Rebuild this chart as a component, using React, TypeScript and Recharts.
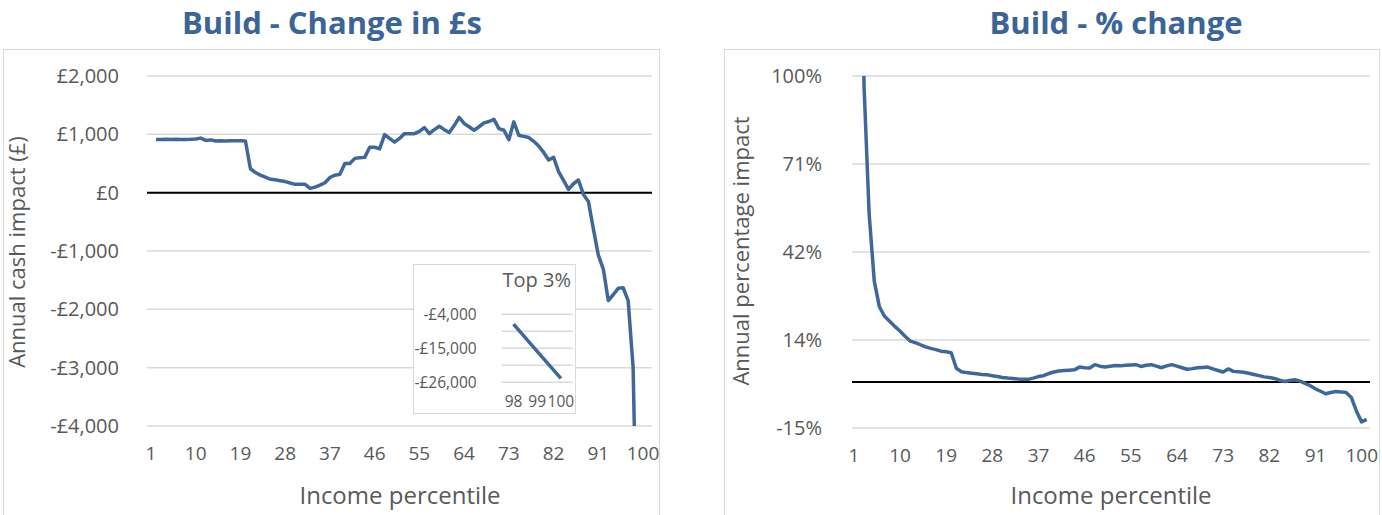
import React from 'react';
import { LineChart, Line, XAxis, YAxis, CartesianGrid, ReferenceLine } from 'recharts';

// Income percentiles 1..100 (category positions on the x axis)
const percentiles = Array.from({ length: 100 }, (_, i) => i + 1);

// Annual cash impact (£) by income percentile
const cashChange = [
  910, 912, 915, 912, 915, 910, 912, 915, 920, 935,
  895, 905, 885, 890, 885, 888, 890, 888, 885, 410,
  345, 300, 265, 230, 220, 205, 190, 165, 143, 143,
  143, 73, 95, 130, 170, 260, 300, 316, 501, 501,
  588, 600, 605, 779, 779, 751, 995, 930, 866, 930,
  1012, 1012, 1012, 1050, 1117, 1012, 1080, 1139, 1080, 1030,
  1150, 1290, 1186, 1130, 1070, 1130, 1197, 1220, 1256, 1099,
  1070, 908, 1214, 983, 965, 945, 880, 800, 690, 560,
  605, 362, 210, 56, 153, 217, -30, -150, -620, -1070,
  -1310, -1850, -1750, -1640, -1630, -1850, -3000, -7200, -16000, -24700,
];

// Annual percentage impact (%) by income percentile
const pctChange = [
  250, 97, 55, 33, 24.6, 21.5, 19.9, 18.2, 16.7, 15,
  13.4, 12.9, 12.2, 11.5, 11.0, 10.6, 10.1, 9.9, 9.6, 4.5,
  3.4, 3.1, 2.9, 2.7, 2.5, 2.4, 2.1, 1.8, 1.5, 1.3,
  1.2, 1.0, 0.9, 0.9, 1.3, 1.8, 2.1, 2.8, 3.3, 3.6,
  3.8, 3.9, 4.0, 4.9, 4.7, 4.6, 5.7, 5.2, 4.9, 5.2,
  5.4, 5.3, 5.5, 5.6, 5.7, 5.1, 5.5, 5.7, 5.2, 4.7,
  5.3, 5.7, 5.2, 4.7, 4.2, 4.4, 4.7, 4.8, 4.9, 4.3,
  3.8, 3.3, 4.3, 3.5, 3.4, 3.2, 2.9, 2.5, 2.1, 1.7,
  1.5, 1.2, 0.6, 0.2, 0.5, 0.75, 0.3, -0.4, -1.2, -2.2,
  -3.0, -3.8, -3.4, -3.1, -3.2, -3.4, -5.0, -9.5, -13, -12.2,
];

const xTicks = [1, 10, 19, 28, 37, 46, 55, 64, 73, 82, 91, 100];
const cashTicks = [-4000, -3000, -2000, -1000, 0, 1000, 2000];
const pctTicks = [-15, 13.75, 42.5, 71.25, 100];
const pctTickLabels = ['-15%', '14%', '42%', '71%', '100%'];

// Top 3% detail panel
const topPercentiles = [98, 99, 100];
const topTicks = [-26000, -20500, -15000, -9500, -4000];
const topLabelledTicks = [-26000, -15000, -4000];

const cashData = percentiles.map((p, i) => ({ p, v: cashChange[i] }));
const pctData = percentiles.map((p, i) => ({ p, v: pctChange[i] }));
const topData = topPercentiles.map((p) => ({ p, v: cashChange[p - 1] }));

const TEXT = '#595959';
const LINE = '#3F6899';
const TITLE = '#3B6497';
const GRID = '#D9D9D9';
const FONT = '"Open Sans", "Noto Sans", sans-serif';

const pounds = (v: number) => {
  const digits = String(Math.abs(v)).replace(/\B(?=(\d{3})+(?!\d))/g, ',');
  return (v < 0 ? '-' : '') + '£' + digits;
};

const makeXTick = (dx: number, dy: number, size: number) => (props: any) => {
  const { x, y, payload } = props;
  return (
    <text x={x + dx} y={y + dy} textAnchor="middle" fill={TEXT} fontSize={size} fontFamily={FONT}>
      {payload.value}
    </text>
  );
};

const makeYTick = (format: (v: number) => string, dx: number, dy: number, size: number) => (props: any) => {
  const { x, y, payload } = props;
  return (
    <text x={x + dx} y={y + dy} textAnchor="end" fill={TEXT} fontSize={size} fontFamily={FONT}>
      {format(payload.value)}
    </text>
  );
};

const mainXTick = makeXTick(-5, 34, 19);
const poundTick = makeYTick(pounds, -28, 7, 20);
const pctTick = makeYTick((v) => pctTickLabels[pctTicks.indexOf(v)] ?? '', -30, 7, 20);
const topXTick = makeXTick(0, 25, 15.5);
const topYTick = makeYTick((v) => (topLabelledTicks.includes(v) ? pounds(v) : ''), -25, 5.5, 15.5);

const abs = (left: number, top: number): React.CSSProperties => ({ position: 'absolute', left, top });

export default function App() {
  return (
    <div style={{ position: 'absolute', left: 0, top: 0, width: 1382, height: 515, background: '#fff', fontFamily: FONT, overflow: 'hidden' }}>
      {/* panel frames */}
      <div style={{ ...abs(3, 49), width: 657, height: 470, border: `1px solid ${GRID}`, boxSizing: 'border-box' }} />
      <div style={{ ...abs(724, 49), width: 656, height: 470, border: `1px solid ${GRID}`, boxSizing: 'border-box' }} />

      {/* cash change */}
      <div style={abs(0, 0)}>
        <LineChart width={660} height={515} data={cashData} margin={{ top: 76, right: 8, bottom: 59, left: 0 }}>
          <CartesianGrid vertical={false} stroke={GRID} strokeWidth={1.5} />
          <XAxis dataKey="p" type="number" domain={[-0.81, 100.8]} ticks={xTicks} interval={0} allowDataOverflow
            axisLine={false} tickLine={false} tickSize={0} tickMargin={0} height={30} tick={mainXTick} />
          <YAxis type="number" domain={[-4000, 2000]} ticks={cashTicks} interval={0} allowDataOverflow width={147}
            axisLine={false} tickLine={false} tickSize={0} tickMargin={0} tick={poundTick} />
          <ReferenceLine y={0} stroke="#000" strokeWidth={2} />
          <Line dataKey="v" stroke={LINE} strokeWidth={3.5} dot={false} strokeLinejoin="round" isAnimationActive={false} />
        </LineChart>
      </div>

      {/* percentage change */}
      <div style={abs(700, 0)}>
        <LineChart width={682} height={515} data={pctData} margin={{ top: 76, right: 12, bottom: 57, left: 0 }}>
          <CartesianGrid vertical={false} stroke={GRID} strokeWidth={1.5} />
          <XAxis dataKey="p" type="number" domain={[-0.34, 100.64]} ticks={xTicks} interval={0} allowDataOverflow
            axisLine={false} tickLine={false} tickSize={0} tickMargin={0} height={30} tick={mainXTick} />
          <YAxis type="number" domain={[-15, 100]} ticks={pctTicks} interval={0} allowDataOverflow width={152}
            axisLine={false} tickLine={false} tickSize={0} tickMargin={0} tick={pctTick} />
          <ReferenceLine y={0} stroke="#000" strokeWidth={2} />
          <Line dataKey="v" stroke={LINE} strokeWidth={3.5} dot={false} strokeLinejoin="round" isAnimationActive={false} />
        </LineChart>
      </div>

      {/* top 3% detail */}
      <div style={{ ...abs(413, 264), width: 163, height: 150, border: `1px solid ${GRID}`, background: '#fff', boxSizing: 'border-box' }} />
      <div style={abs(413, 264)}>
        <LineChart width={162} height={149} data={topData} margin={{ top: 50.3, right: 2.3, bottom: 10.7, left: 0 }}>
          <CartesianGrid vertical={false} stroke={GRID} strokeWidth={1.5} />
          <XAxis dataKey="p" type="number" domain={[97.5, 100.5]} ticks={topPercentiles} interval={0} allowDataOverflow
            axisLine={false} tickLine={false} tickSize={0} tickMargin={0} height={20} tick={topXTick} />
          <YAxis type="number" domain={[-26000, -4000]} ticks={topTicks} interval={0} allowDataOverflow width={88.7}
            axisLine={false} tickLine={false} tickSize={0} tickMargin={0} tick={topYTick} />
          <Line dataKey="v" stroke={LINE} strokeWidth={3.5} dot={false} isAnimationActive={false} />
        </LineChart>
      </div>

      {/* titles and axis captions */}
      <svg width={1382} height={515} style={{ position: 'absolute', left: 0, top: 0, pointerEvents: 'none' }}>
        <text x={332} y={33.5} textAnchor="middle" fill={TITLE} fontSize={31} fontWeight={700} fontFamily={FONT}>Build - Change in £s</text>
        <text x={1116} y={33.5} textAnchor="middle" fill={TITLE} fontSize={31} fontWeight={700} fontFamily={FONT}>Build - % change</text>
        <text x={571} y={286.5} textAnchor="end" fill={TEXT} fontSize={20} fontFamily={FONT}>Top 3%</text>
        <text x={400} y={504} textAnchor="middle" fill={TEXT} fontSize={24} fontFamily={FONT}>Income percentile</text>
        <text x={1111} y={504} textAnchor="middle" fill={TEXT} fontSize={24} fontFamily={FONT}>Income percentile</text>
        <text transform="translate(25 252) rotate(-90)" textAnchor="middle" fill={TEXT} fontSize={22} fontFamily={FONT}>Annual cash impact (£)</text>
        <text transform="translate(749 251) rotate(-90)" textAnchor="middle" fill={TEXT} fontSize={22} fontFamily={FONT}>Annual percentage impact</text>
      </svg>
    </div>
  );
}
